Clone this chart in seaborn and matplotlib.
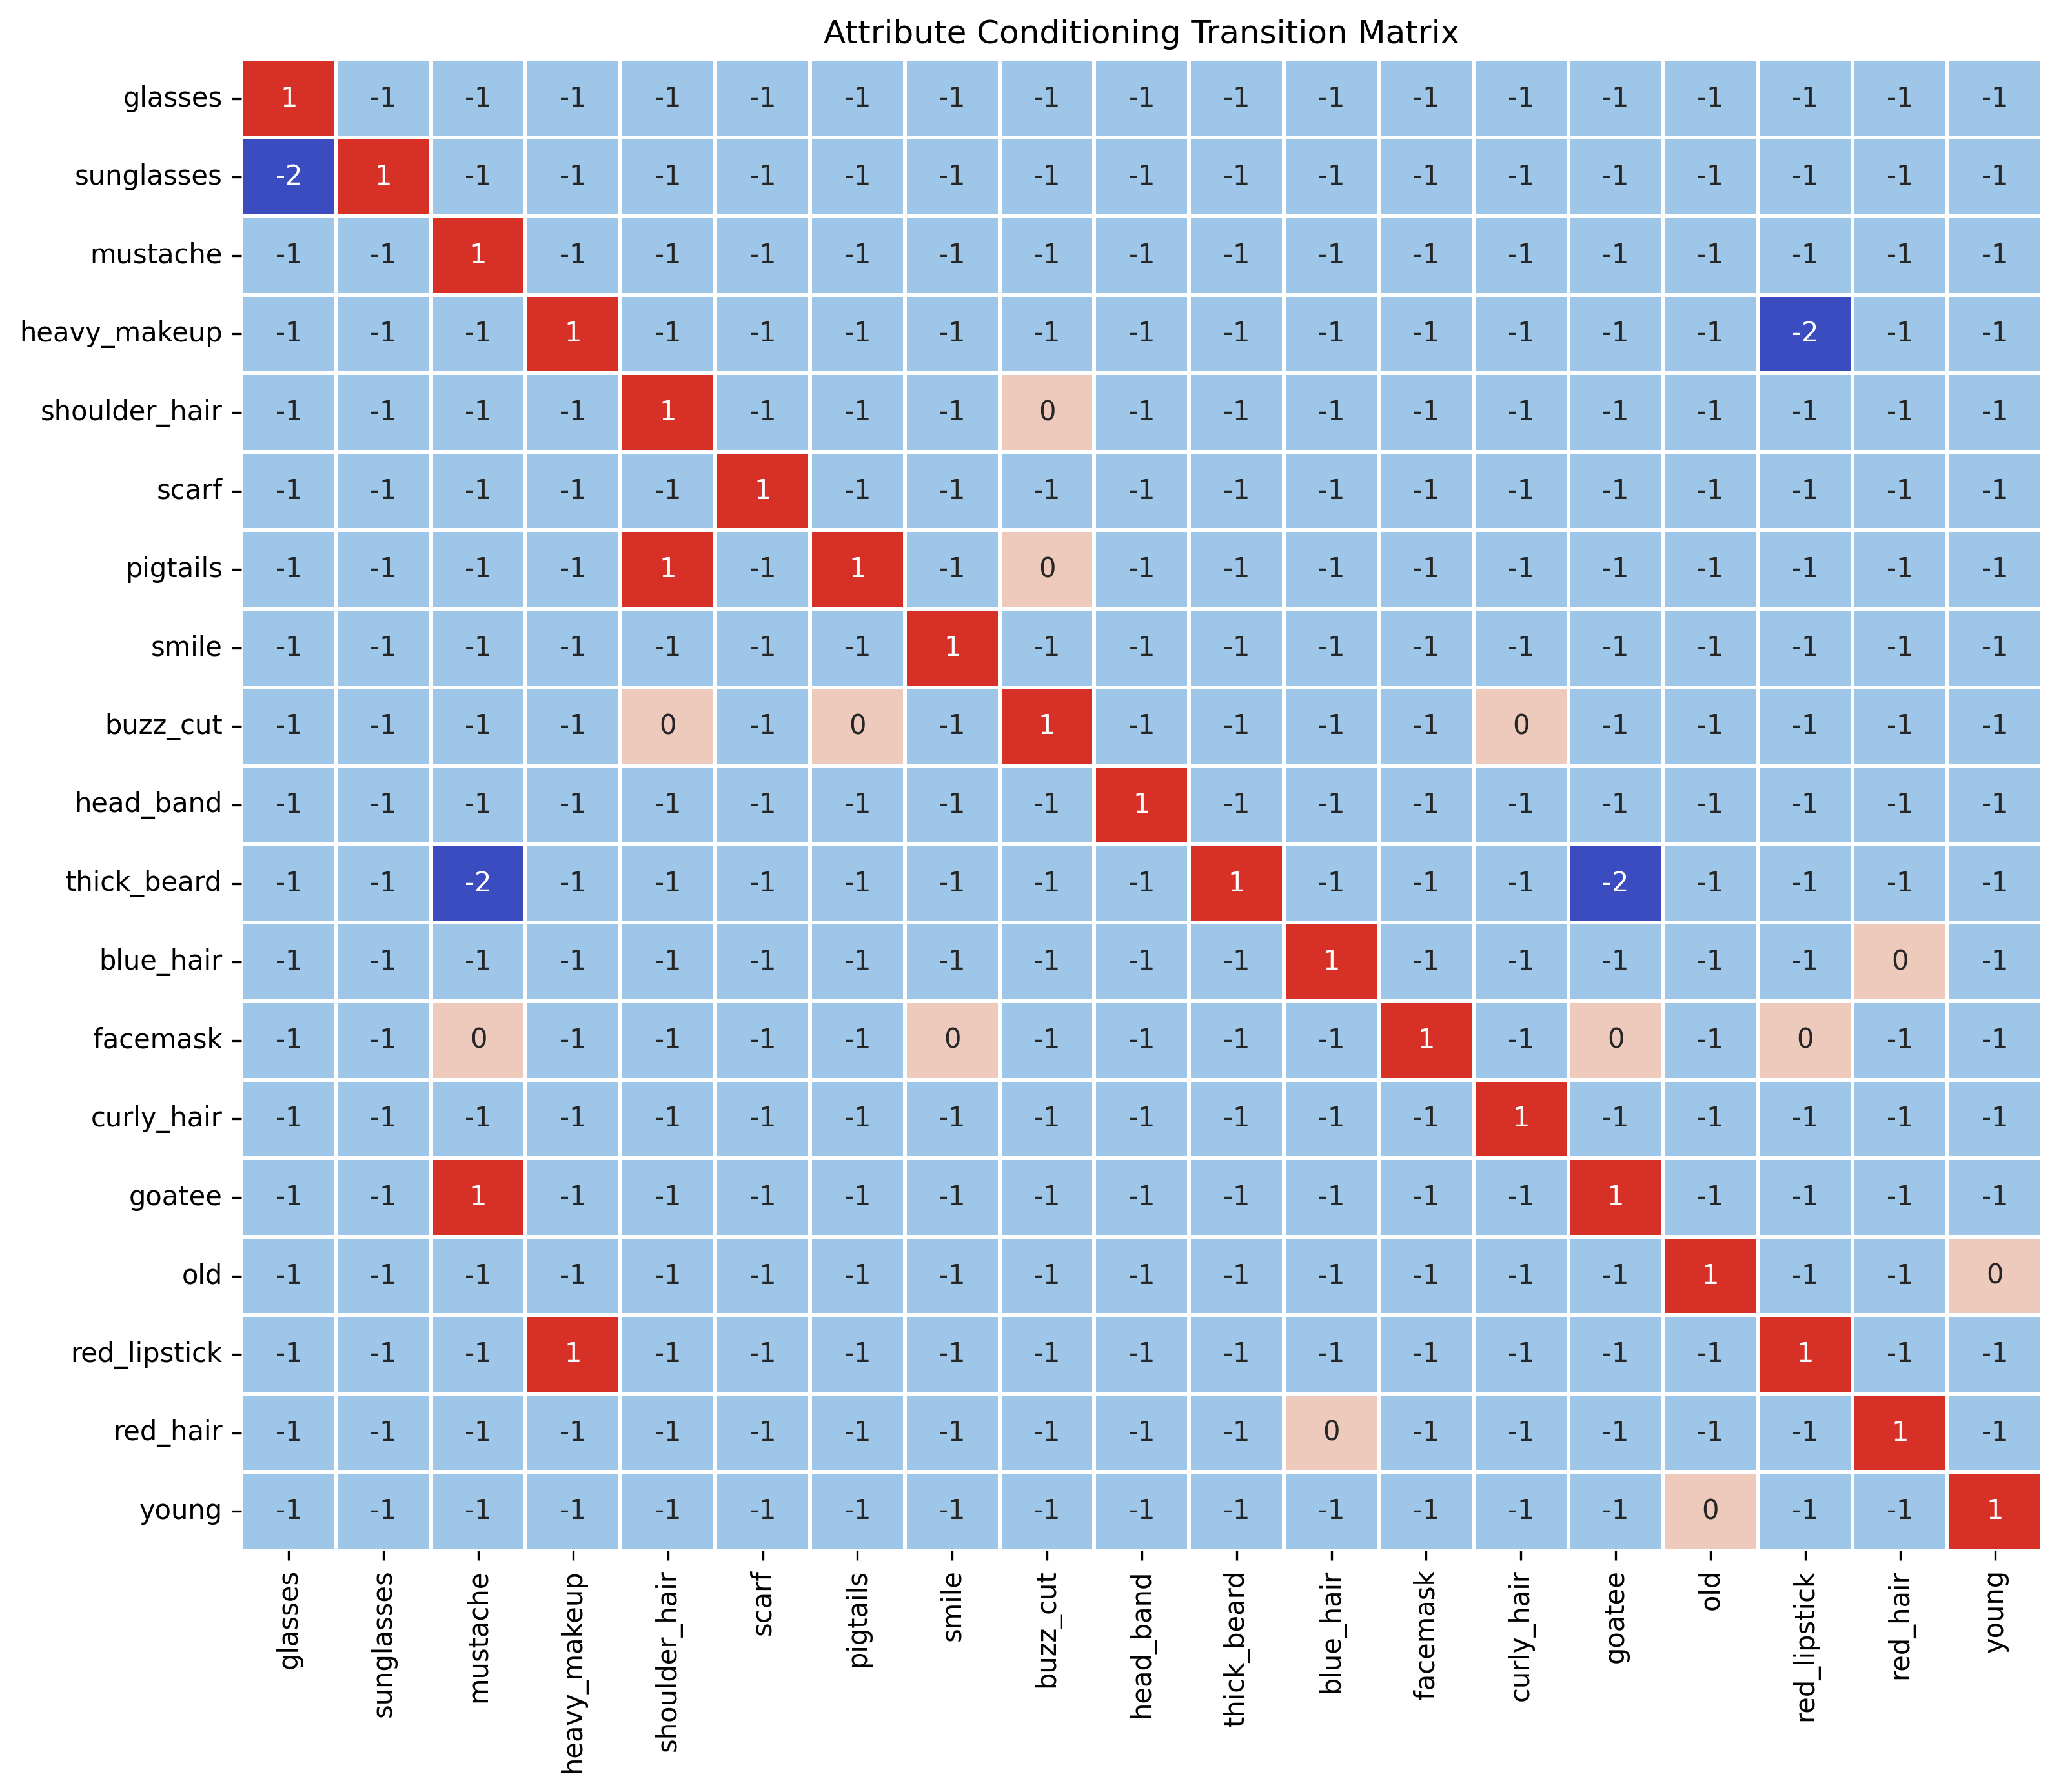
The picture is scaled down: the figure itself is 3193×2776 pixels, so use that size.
import numpy as np
import pandas as pd
import matplotlib
matplotlib.use("Agg")
import matplotlib.pyplot as plt
from matplotlib.colors import ListedColormap
import seaborn as sns

labels = ["glasses", "sunglasses", "mustache", "heavy_makeup", "shoulder_hair",
          "scarf", "pigtails", "smile", "buzz_cut", "head_band", "thick_beard",
          "blue_hair", "facemask", "curly_hair", "goatee", "old", "red_lipstick",
          "red_hair", "young"]

matrix = [
    # gla sun mus hea sho sca pig smi buz hea thi blu fac cur goa old rli rha you
    [ 1, -1, -1, -1, -1, -1, -1, -1, -1, -1, -1, -1, -1, -1, -1, -1, -1, -1, -1],  # glasses
    [-2,  1, -1, -1, -1, -1, -1, -1, -1, -1, -1, -1, -1, -1, -1, -1, -1, -1, -1],  # sunglasses
    [-1, -1,  1, -1, -1, -1, -1, -1, -1, -1, -1, -1, -1, -1, -1, -1, -1, -1, -1],  # mustache
    [-1, -1, -1,  1, -1, -1, -1, -1, -1, -1, -1, -1, -1, -1, -1, -1, -2, -1, -1],  # heavy_makeup
    [-1, -1, -1, -1,  1, -1, -1, -1,  0, -1, -1, -1, -1, -1, -1, -1, -1, -1, -1],  # shoulder_hair
    [-1, -1, -1, -1, -1,  1, -1, -1, -1, -1, -1, -1, -1, -1, -1, -1, -1, -1, -1],  # scarf
    [-1, -1, -1, -1,  1, -1,  1, -1,  0, -1, -1, -1, -1, -1, -1, -1, -1, -1, -1],  # pigtails
    [-1, -1, -1, -1, -1, -1, -1,  1, -1, -1, -1, -1, -1, -1, -1, -1, -1, -1, -1],  # smile
    [-1, -1, -1, -1,  0, -1,  0, -1,  1, -1, -1, -1, -1,  0, -1, -1, -1, -1, -1],  # buzz_cut
    [-1, -1, -1, -1, -1, -1, -1, -1, -1,  1, -1, -1, -1, -1, -1, -1, -1, -1, -1],  # head_band
    [-1, -1, -2, -1, -1, -1, -1, -1, -1, -1,  1, -1, -1, -1, -2, -1, -1, -1, -1],  # thick_beard
    [-1, -1, -1, -1, -1, -1, -1, -1, -1, -1, -1,  1, -1, -1, -1, -1, -1,  0, -1],  # blue_hair
    [-1, -1,  0, -1, -1, -1, -1,  0, -1, -1, -1, -1,  1, -1,  0, -1,  0, -1, -1],  # facemask
    [-1, -1, -1, -1, -1, -1, -1, -1, -1, -1, -1, -1, -1,  1, -1, -1, -1, -1, -1],  # curly_hair
    [-1, -1,  1, -1, -1, -1, -1, -1, -1, -1, -1, -1, -1, -1,  1, -1, -1, -1, -1],  # goatee
    [-1, -1, -1, -1, -1, -1, -1, -1, -1, -1, -1, -1, -1, -1, -1,  1, -1, -1,  0],  # old
    [-1, -1, -1,  1, -1, -1, -1, -1, -1, -1, -1, -1, -1, -1, -1, -1,  1, -1, -1],  # red_lipstick
    [-1, -1, -1, -1, -1, -1, -1, -1, -1, -1, -1,  0, -1, -1, -1, -1, -1,  1, -1],  # red_hair
    [-1, -1, -1, -1, -1, -1, -1, -1, -1, -1, -1, -1, -1, -1, -1,  0, -1, -1,  1],  # young
]

title = "Attribute Conditioning Transition Matrix"

df = pd.DataFrame(matrix, index=labels, columns=labels)

cmap = ListedColormap(["#3b4cc0", "#9dc6e8", "#eecabc", "#d73027"])

fig = plt.figure(figsize=(3193 / 300, 2776 / 300), dpi=300)
ax = fig.add_axes([0.1171, 0.1347, 0.9909 - 0.1171, 0.9669 - 0.1347])
sns.heatmap(df, ax=ax, cmap=cmap, vmin=-2, vmax=1, annot=True, fmt="d",
            linewidths=1, linecolor="white", cbar=False)
ax.set_title(title, fontsize=12)
ax.set_xticklabels(ax.get_xticklabels(), rotation=90)
ax.set_yticklabels(ax.get_yticklabels(), rotation=0)
fig.savefig("out.png", dpi=300)
